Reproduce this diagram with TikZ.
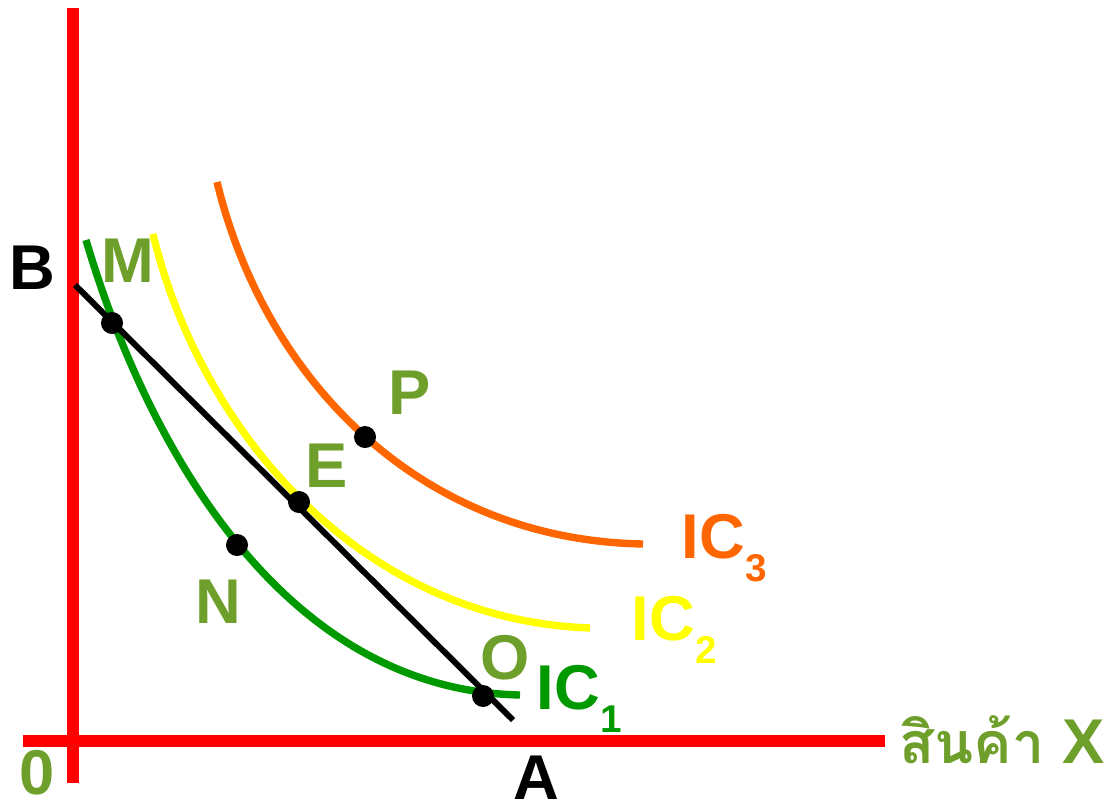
\documentclass[tikz,border=0pt]{standalone}
\usepackage{fontspec}
\setmainfont{Liberation Sans}
\newfontfamily\thaifont[Script=Thai]{Loma}
\definecolor{my_red}{HTML}{FF0000}
\definecolor{my_olive}{HTML}{6E9F2A}
\definecolor{my_green}{HTML}{009900}
\definecolor{my_yellow}{HTML}{FFFF00}
\definecolor{my_orange}{HTML}{FF6600}

\begin{document}
\begin{tikzpicture}[
    x=0.01cm, y=-0.01cm,
    axis/.style={my_red, line width=3.6pt},
    curve/.style={line width=2.1pt},
    budget/.style={black, line width=1.7pt},
    dot/.style={circle, fill=black, inner sep=0pt, minimum size=0.22cm},
    lbl/.style={font=\fontsize{18}{18}\selectfont\bfseries, inner sep=0pt},
    iclbl/.style={lbl, anchor=base west}
]
\useasboundingbox (0,0) rectangle (1109,809);

% axes
\coordinate (ytop) at (73,8);
\coordinate (ybot) at (73,783);
\coordinate (xleft) at (23,741);
\coordinate (xright) at (885,741);
\draw[axis] (ybot) -- (ytop);
\draw[axis] (xleft) -- (xright);

% indifference curves
\draw[curve, my_green]  (86,240)  .. controls (145,440) and (280,690) .. (520,695);
\draw[curve, my_yellow] (153,234) .. controls (200,430) and (360,620) .. (590,628);
\draw[curve, my_orange] (217,182) .. controls (265,380) and (420,540) .. (643,544);

% budget line
\coordinate (bstart) at (75,285);
\coordinate (bend) at (513,720);
\draw[budget] (bstart) -- (bend);

% points
\node[dot] (ptM) at (112,323) {};
\node[dot] (ptN) at (237,545) {};
\node[dot] (ptE) at (299,502) {};
\node[dot] (ptP) at (365,437) {};
\node[dot] (ptO) at (483,696) {};

% labels
\node[lbl, text=black]    (lblB) at (32,268)  {B};
\node[lbl, text=black]    (lblA) at (536,778) {A};
\node[lbl, text=my_olive] (lbl0) at (37,773)  {0};
\node[lbl, text=my_olive] (lblM) at (128,261) {M};
\node[lbl, text=my_olive] (lblP) at (410,393) {P};
\node[lbl, text=my_olive] (lblE) at (327,466) {E};
\node[lbl, text=my_olive] (lblN) at (218,602) {N};
\node[lbl, text=my_olive] (lblO) at (505,658) {O};

\node[iclbl, text=my_green]  (ic1) at (536,709) {IC\raisebox{-6.8pt}{\fontsize{11}{11}\selectfont 1}};
\node[iclbl, text=my_yellow] (ic2) at (631,640) {IC\raisebox{-6.8pt}{\fontsize{11}{11}\selectfont 2}};
\node[iclbl, text=my_orange] (ic3) at (681,558) {IC\raisebox{-6.8pt}{\fontsize{11}{11}\selectfont 3}};

\node[lbl, text=my_olive, anchor=west] (goodX) at (899,740)
    {{\thaifont\fontsize{16.3}{16.3}\selectfont\bfseries สินค้า} X};

\end{tikzpicture}
\end{document}
